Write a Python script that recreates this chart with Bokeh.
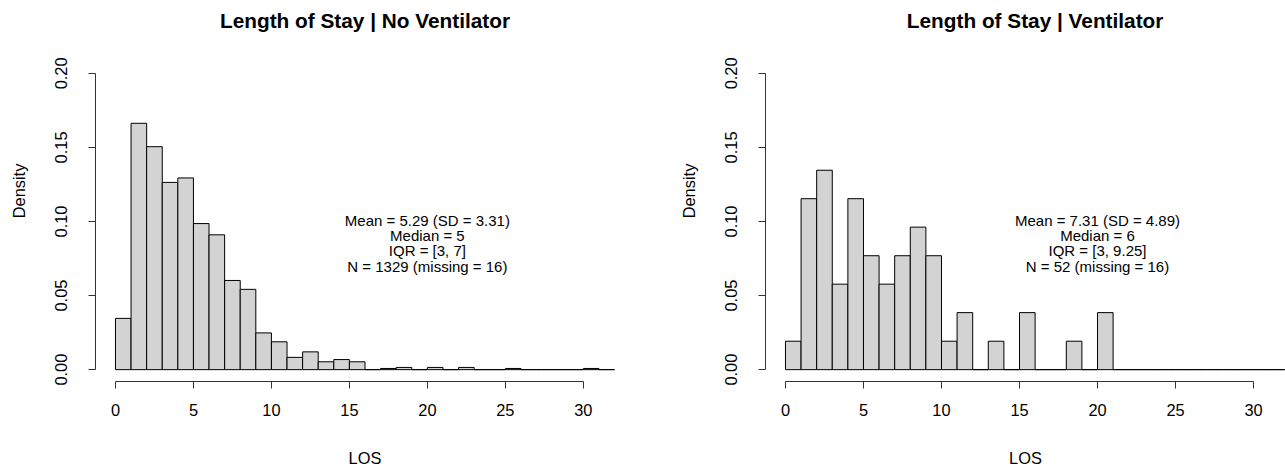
from bokeh.plotting import figure
from bokeh.layouts import row
from bokeh.models import FixedTicker, ColumnDataSource
from bokeh.core.properties import value
from bokeh.embed import file_html
from bokeh.resources import INLINE

# ---------------- data ----------------
bin_left = list(range(0, 32))
bin_right = list(range(1, 33))

no_vent_density = [0.0346, 0.1663, 0.1505, 0.1264, 0.1294, 0.0986, 0.0910, 0.0602,
                   0.0542, 0.0248, 0.0188, 0.0083, 0.0120, 0.0053, 0.0068, 0.0053,
                   0.0, 0.0008, 0.0015, 0.0, 0.0015, 0.0, 0.0015, 0.0,
                   0.0, 0.0008, 0.0, 0.0, 0.0, 0.0, 0.0008, 0.0]

vent_density = [0.0192, 0.1154, 0.1346, 0.0577, 0.1154, 0.0769, 0.0577, 0.0769,
                0.0962, 0.0769, 0.0192, 0.0385, 0.0, 0.0192, 0.0, 0.0385,
                0.0, 0.0, 0.0192, 0.0, 0.0385, 0.0, 0.0, 0.0,
                0.0, 0.0, 0.0, 0.0, 0.0, 0.0, 0.0, 0.0]

titles = ["Length of Stay | No Ventilator", "Length of Stay | Ventilator"]
stats_no_vent = ["Mean = 5.29 (SD = 3.31)", "Median = 5", "IQR = [3, 7]",
                 "N = 1329 (missing = 16)"]
stats_vent = ["Mean = 7.31 (SD = 4.89)", "Median = 6", "IQR = [3, 9.25]",
              "N = 52 (missing = 16)"]
x_ticks = [0, 5, 10, 15, 20, 25, 30]
y_ticks = [0.0, 0.05, 0.10, 0.15, 0.20]
y_tick_labels = ["0.00", "0.05", "0.10", "0.15", "0.20"]
x_label = "LOS"
y_label = "Density"

FONT = "Liberation Sans"
PX_PER_UNIT = 1481.25          # vertical scale (pixels per density unit)
Y_TOP = 0.208 + 61 / PX_PER_UNIT  # frame extends to the top of the canvas
TITLE_Y = 0.208 + 41 / PX_PER_UNIT


def make_panel(density, title, stats, fig_width, border_left, border_right,
               frame_width, x_end):
    p = figure(width=fig_width, height=467, frame_width=frame_width, frame_height=381,
               x_range=(-1.28, x_end), y_range=(-0.008, Y_TOP),
               output_backend="svg", toolbar_location=None,
               min_border_left=border_left, min_border_right=border_right,
               min_border_top=0, min_border_bottom=86)
    p.outline_line_color = None
    p.xgrid.visible = False
    p.ygrid.visible = False
    p.background_fill_color = "white"
    p.border_fill_color = "white"

    src = ColumnDataSource(dict(left=bin_left, right=bin_right, top=density,
                                bottom=[0] * len(density)))
    p.quad(left="left", right="right", top="top", bottom="bottom", source=src,
           fill_color="#D3D3D3", line_color="black", line_width=1)

    # annotation text
    ys = [0.1005 - i * 0.0102 for i in range(len(stats))]
    p.text(x=[20] * len(stats), y=ys, text=stats, text_align="center",
           text_baseline="middle", text_font=value(FONT), text_font_size="15px",
           text_color="black")

    # title, centred over the plotting region
    p.text(x=[16], y=[TITLE_Y], text=[title], text_align="center",
           text_baseline="middle", text_font=value(FONT), text_font_size="20.8px",
           text_font_style="bold", text_color="black")

    for ax in (p.xaxis[0], p.yaxis[0]):
        ax.axis_line_color = "#333333"
        ax.major_tick_line_color = "#333333"
        ax.minor_tick_line_color = None
        ax.major_tick_out = 7
        ax.major_tick_in = 0
        ax.major_label_text_font = FONT
        ax.major_label_text_font_size = "16.4px"
        ax.major_label_text_color = "black"
        ax.axis_label_text_font = FONT
        ax.axis_label_text_font_size = "16.4px"
        ax.axis_label_text_font_style = "normal"
        ax.axis_label_text_color = "black"

    xa = p.xaxis[0]
    xa.ticker = FixedTicker(ticks=x_ticks)
    xa.bounds = (0, 30)
    xa.axis_label = x_label
    xa.major_label_standoff = 15
    xa.axis_label_standoff = 30

    ya = p.yaxis[0]
    ya.ticker = FixedTicker(ticks=y_ticks)
    ya.bounds = (0, 0.2)
    ya.major_label_overrides = {t: l for t, l in zip(y_ticks, y_tick_labels)}
    ya.major_label_orientation = "vertical"
    ya.axis_label = y_label
    ya.axis_label_standoff = 25
    ya.major_label_standoff = 21
    return p


p1 = make_panel(no_vent_density, titles[0], stats_no_vent, 650, 95, 16, 539, 33.28)
p2 = make_panel(vent_density, titles[1], stats_vent, 635, 115, 0, 520, 32.05)

layout = row(p1, p2, spacing=0)
open("out.html", "w").write(file_html(layout, INLINE))
